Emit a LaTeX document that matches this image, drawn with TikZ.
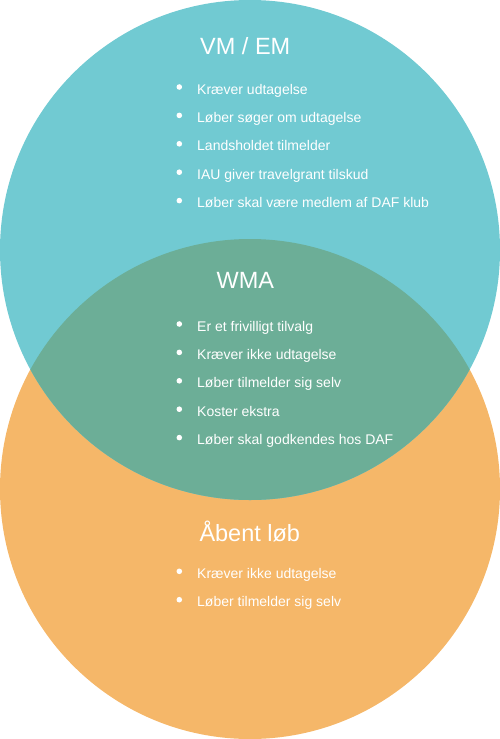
\documentclass[tikz,border=0pt]{standalone}
\usepackage{fontspec}
\setmainfont{Liberation Sans}
\definecolor{vmcol}{HTML}{71CAD2}
\definecolor{abcol}{HTML}{F5B769}
\definecolor{wmacol}{HTML}{6CAE97}
\begin{document}
\begin{tikzpicture}[x=1pt,y=-1pt,
  head/.style={anchor=base west,inner sep=0pt,text=white,font=\fontsize{23.5}{28}\selectfont},
  item/.style={anchor=base west,inner sep=0pt,text=white,font=\fontsize{14}{16}\selectfont},
  dot/.style={fill=white}]
\useasboundingbox (0,0) rectangle (500,739);
\fill[abcol] (250,489) circle (250pt);
\fill[vmcol] (250,250) circle (250pt);
\begin{scope}
  \clip (250,250) circle (250pt);
  \fill[wmacol] (250,489) circle (250pt);
\end{scope}
% VM / EM
\node[head] (vmhead) at (200,54) {VM / EM};
\foreach \t [count=\i] in {Kræver udtagelse,Løber søger om udtagelse,Landsholdet tilmelder,IAU giver travelgrant tilskud,Løber skal være medlem af DAF klub}{
  \node[item] (vm\i) at (197,{94+28.4*(\i-1)}) {\t};
  \fill[dot] (179.3,{87+28.4*(\i-1)}) circle (2.8pt);
}
% WMA
\node[head] (wmahead) at (216.5,288.3) {WMA};
\foreach \t [count=\i] in {Er et frivilligt tilvalg,Kræver ikke udtagelse,Løber tilmelder sig selv,Koster ekstra,Løber skal godkendes hos DAF}{
  \node[item] (wma\i) at (197,{331+28.4*(\i-1)}) {\t};
  \fill[dot] (179.3,{324+28.4*(\i-1)}) circle (2.8pt);
}
% Åbent løb
\node[head] (abhead) at (199.3,541) {Åbent løb};
\foreach \t [count=\i] in {Kræver ikke udtagelse,Løber tilmelder sig selv}{
  \node[item] (ab\i) at (197,{578.3+28.4*(\i-1)}) {\t};
  \fill[dot] (179.3,{571.3+28.4*(\i-1)}) circle (2.8pt);
}
\end{tikzpicture}
\end{document}
